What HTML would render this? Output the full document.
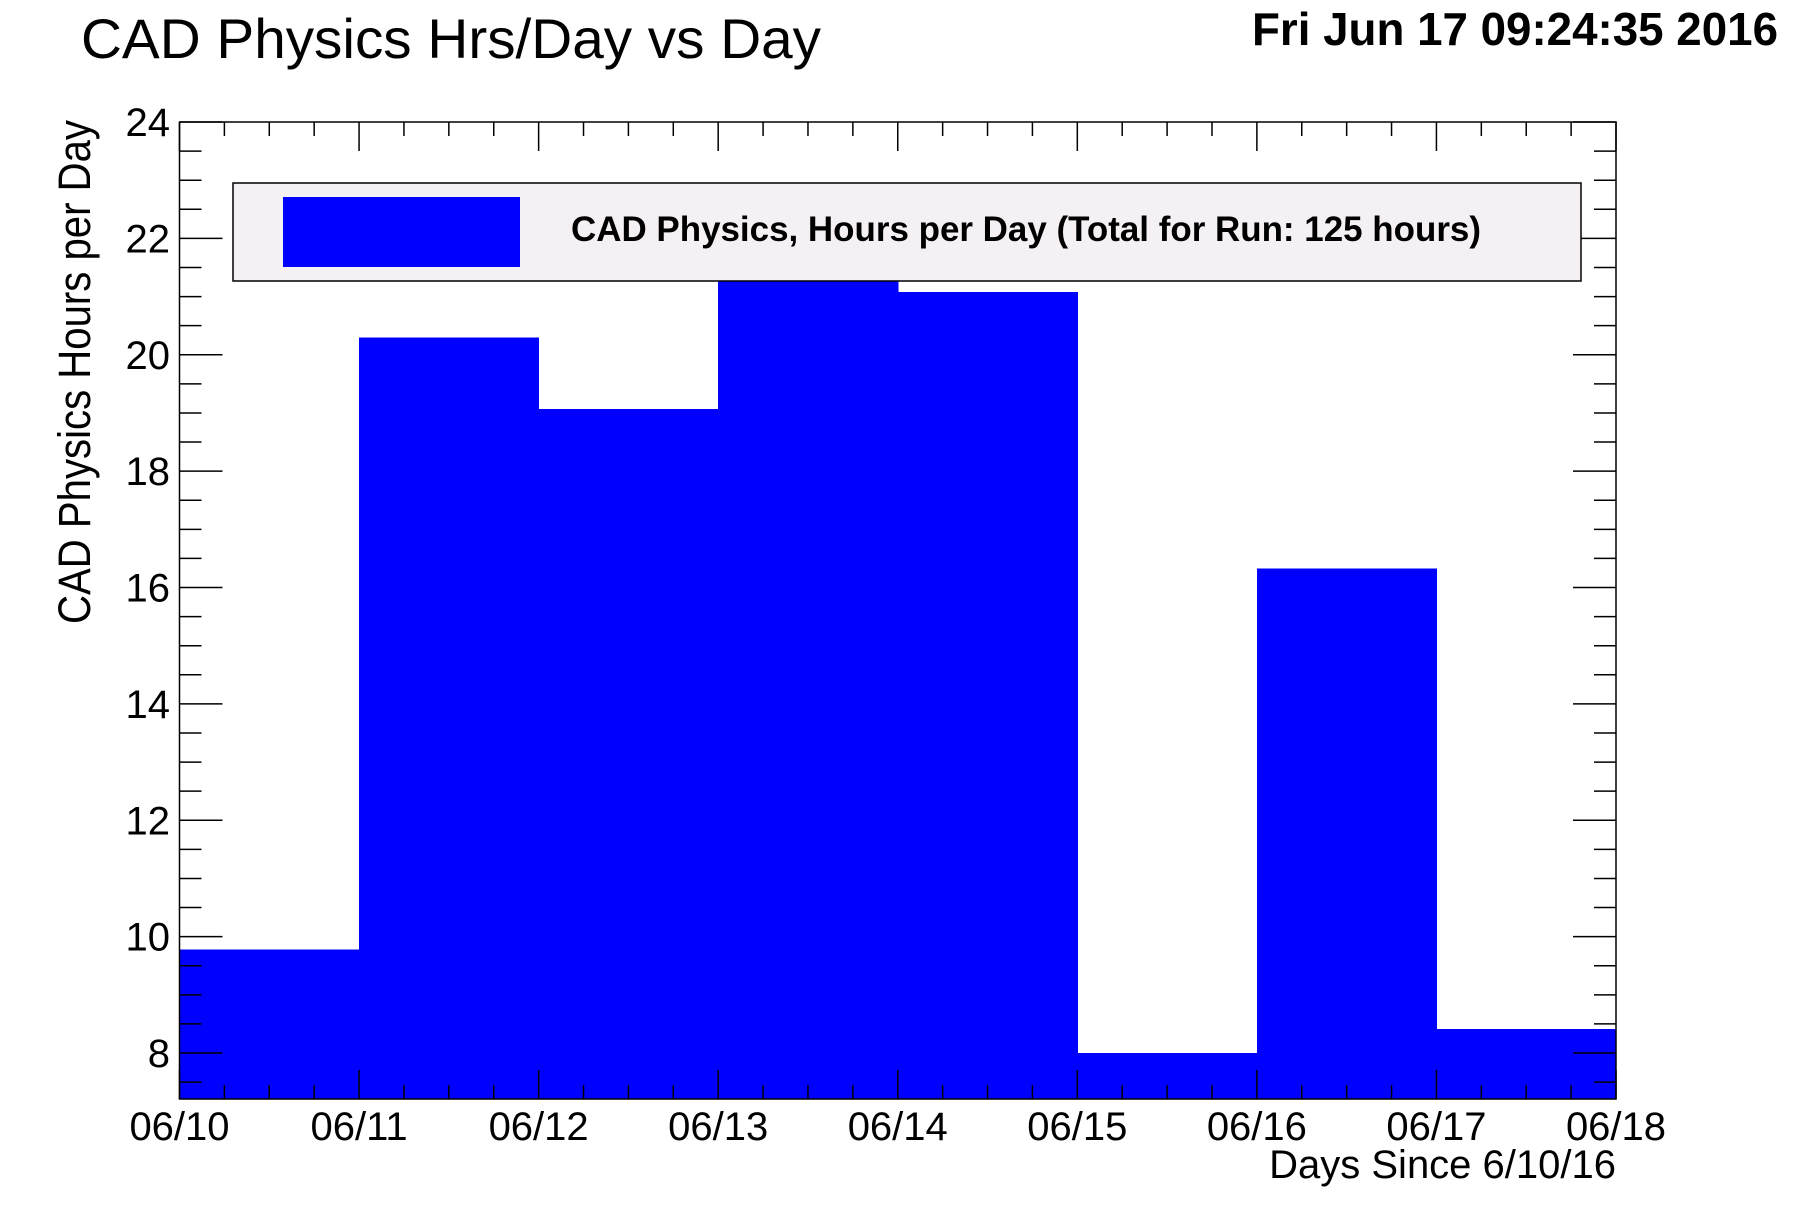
<!DOCTYPE html>
<html><head><meta charset="utf-8"><style>
html,body{margin:0;padding:0;background:#fff;}
svg{display:block;font-family:"Liberation Sans",Arial,sans-serif;}
</style></head><body>
<svg id="chart" width="1796" height="1222" viewBox="0 0 1796 1222" xmlns="http://www.w3.org/2000/svg">
<rect x="0" y="0" width="1796" height="1222" fill="#fff"/>
<text x="81" y="58" font-size="56" textLength="740" lengthAdjust="spacingAndGlyphs" fill="#000">CAD Physics Hrs/Day vs Day</text>
<text x="1778" y="45" font-size="46" font-weight="bold" text-anchor="end" textLength="526" lengthAdjust="spacingAndGlyphs" fill="#000">Fri Jun 17 09:24:35 2016</text>
<g id="bars" shape-rendering="crispEdges"></g>
<g id="axes"></g>
<g>
<rect x="233" y="183" width="1348" height="98" fill="#f5f0f4" stroke="#000" stroke-width="1.5"/>
<rect x="283" y="197" width="237" height="70" fill="#0000ff"/>
<text x="571" y="241" font-size="35" font-weight="bold" textLength="910" lengthAdjust="spacingAndGlyphs" fill="#000">CAD Physics, Hours per Day (Total for Run: 125 hours)</text>
</g>
<text x="1616" y="1178" font-size="40" text-anchor="end" fill="#000">Days Since 6/10/16</text>
<text transform="translate(90,624) rotate(-90)" font-size="45" textLength="504" lengthAdjust="spacingAndGlyphs" fill="#000">CAD Physics Hours per Day</text>
</svg>
<script>
const categories = ["06/10","06/11","06/12","06/13","06/14","06/15","06/16","06/17"];
const hours = [9.78, 20.3, 19.07, 22.5, 21.08, 8.0, 16.33, 8.41];
const xTickLabels = ["06/10","06/11","06/12","06/13","06/14","06/15","06/16","06/17","06/18"];
const yTickValues = [8, 10, 12, 14, 16, 18, 20, 22, 24];

const X0 = 179.5, X1 = 1616, Y0 = 122, Y1 = 1099;
const yMin = 7.21, yMax = 24;
const nDays = xTickLabels.length - 1;
const xs = d => X0 + (X1 - X0) * d / nDays;
const ys = v => Y0 + (Y1 - Y0) * (yMax - v) / (yMax - yMin);
const NS = "http://www.w3.org/2000/svg";
function mk(tag, attrs, parent) {
  const e = document.createElementNS(NS, tag);
  for (const k in attrs) e.setAttribute(k, attrs[k]);
  parent.appendChild(e);
  return e;
}
const bars = document.getElementById('bars');
const axes = document.getElementById('axes');
hours.forEach((v, i) => {
  const top = ys(Math.min(v, yMax));
  const r = mk('rect', {x: xs(i), y: top, width: xs(i + 1) - xs(i) + 0.5, height: Y1 - top, fill: '#0000ff'}, bars);
  
  
});
const fr = mk('rect', {x: X0, y: Y0, width: X1 - X0, height: Y1 - Y0, fill: 'none', stroke: '#000', 'stroke-width': 1.5}, axes);


for (let v = 7.5; v <= yMax + 0.001; v += 0.5) {
  const y = ys(v);
  const major = Math.abs(v - Math.round(v)) < 0.01 && Math.round(v) % 2 === 0;
  const len = major ? 43 : 22;
  const t1 = mk('line', {x1: X0, x2: X0 + len, y1: y, y2: y, stroke: '#000', 'stroke-width': 1.5}, axes);
  
  
  const t2 = mk('line', {x1: X1, x2: X1 - len, y1: y, y2: y, stroke: '#000', 'stroke-width': 1.5}, axes);
  
  
}
yTickValues.forEach(v => {
  const t = mk('text', {x: 170, y: ys(v) + 14, 'font-size': 40, 'text-anchor': 'end', fill: '#000'}, axes);
  t.textContent = v;
  
  
});
for (let q = 0; q <= nDays * 4; q++) {
  const x = xs(q / 4);
  const len = q % 4 === 0 ? 29 : 14;
  const t1 = mk('line', {x1: x, x2: x, y1: Y1, y2: Y1 - len, stroke: '#000', 'stroke-width': 1.5}, axes);
  
  
  const t2 = mk('line', {x1: x, x2: x, y1: Y0, y2: Y0 + len, stroke: '#000', 'stroke-width': 1.5}, axes);
  
  
}
xTickLabels.forEach((lab, i) => {
  const t = mk('text', {x: xs(i), y: 1140, 'font-size': 40, 'text-anchor': 'middle', fill: '#000'}, axes);
  t.textContent = lab;
  
  
});
</script>
</body></html>
